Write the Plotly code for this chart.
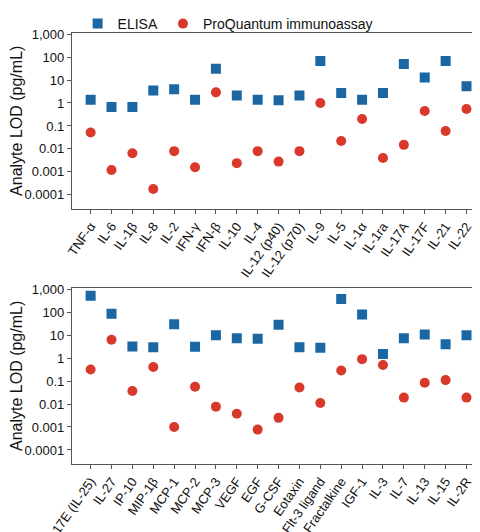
import plotly.graph_objects as go

cats_top = ["TNF-α","IL-6","IL-1β","IL-8","IL-2","IFN-γ","IFN-β","IL-10","IL-4","IL-12 (p40)","IL-12 (p70)","IL-9","IL-5","IL-1α","IL-1ra","IL-17A","IL-17F","IL-21","IL-22"]
elisa_top = [1.4,0.67,0.67,3.5,4,1.4,31,2.1,1.4,1.3,2.1,67,2.7,1.4,2.7,50,13,67,5.3]
pq_top = [0.052,0.0012,0.0065,0.00018,0.008,0.0016,2.9,0.0024,0.008,0.0028,0.008,1.0,0.022,0.2,0.004,0.015,0.45,0.06,0.55]

cats_bot = ["IL-17E (IL-25)","IL-27","IP-10","MIP-1β","MCP-1","MCP-2","MCP-3","VEGF","EGF","G-CSF","Eotaxin","Flt-3 ligand","Fractalkine","IGF-1","IL-3","IL-7","IL-13","IL-15","IL-2R"]
elisa_bot = [520,85,3.2,3.0,30,3.1,10,7.4,7,28,3.0,2.8,370,80,1.5,7.4,10.7,4,10]
pq_bot = [0.32,6.3,0.037,0.41,0.001,0.057,0.0077,0.0038,0.00077,0.0025,0.052,0.011,0.29,0.9,0.5,0.019,0.085,0.11,0.019]

tickvals = [1000,100,10,1,0.1,0.01,0.001,0.0001]
ticktext = ["1,000","100","10","1","0.1","0.01","0.001","0.0001"]

BLUE = "#1b67a3"; RED = "#d9392b"
font = "Liberation Sans, Arial, sans-serif"
fig = go.Figure()
for cats, e, p, xa, ya, show in [(cats_top, elisa_top, pq_top, "x", "y", True),
                                 (cats_bot, elisa_bot, pq_bot, "x2", "y2", False)]:
    fig.add_trace(go.Scatter(x=cats, y=e, mode="markers", name="ELISA", showlegend=show,
                             marker=dict(symbol="square", size=10, color=BLUE), xaxis=xa, yaxis=ya))
    fig.add_trace(go.Scatter(x=cats, y=p, mode="markers", name="ProQuantum immunoassay", showlegend=show,
                             marker=dict(symbol="circle", size=10, color=RED), xaxis=xa, yaxis=ya))

xcommon = dict(range=[-0.9, 18.8], showline=True, linecolor="#555", mirror=True, showgrid=False,
               ticks="outside", ticklen=4, tickcolor="#555", tickangle=-55, automargin=False,
               tickfont=dict(size=13, color="#111"), domain=[0.133, 0.99])
ycommon = dict(type="log", range=[-4.6, 3.05], showline=True, linecolor="#555", mirror=True,
               showgrid=False, ticks="outside", ticklen=4, tickcolor="#555", automargin=False,
               tickvals=tickvals, ticktext=ticktext, tickfont=dict(size=13, color="#111"),
               title=dict(text="Analyte LOD (pg/mL)", font=dict(size=16, color="#111"), standoff=2))
fig.update_layout(
    width=480, height=532, margin=dict(l=0, r=0, t=0, b=0),
    plot_bgcolor="white", paper_bgcolor="white", font=dict(family=font),
    xaxis=dict(**xcommon, anchor="y"),
    yaxis=dict(**ycommon, domain=[0.63, 0.964], anchor="x"),
    xaxis2=dict(**xcommon, anchor="y2"),
    yaxis2=dict(**ycommon, domain=[0.145, 0.479], anchor="x2"),
    legend=dict(orientation="h", x=0.145, y=1.012, xanchor="left", yanchor="top",
                bgcolor="rgba(0,0,0,0)", font=dict(size=14, color="#111"), tracegroupgap=0),
)
fig.write_html("out.html")
